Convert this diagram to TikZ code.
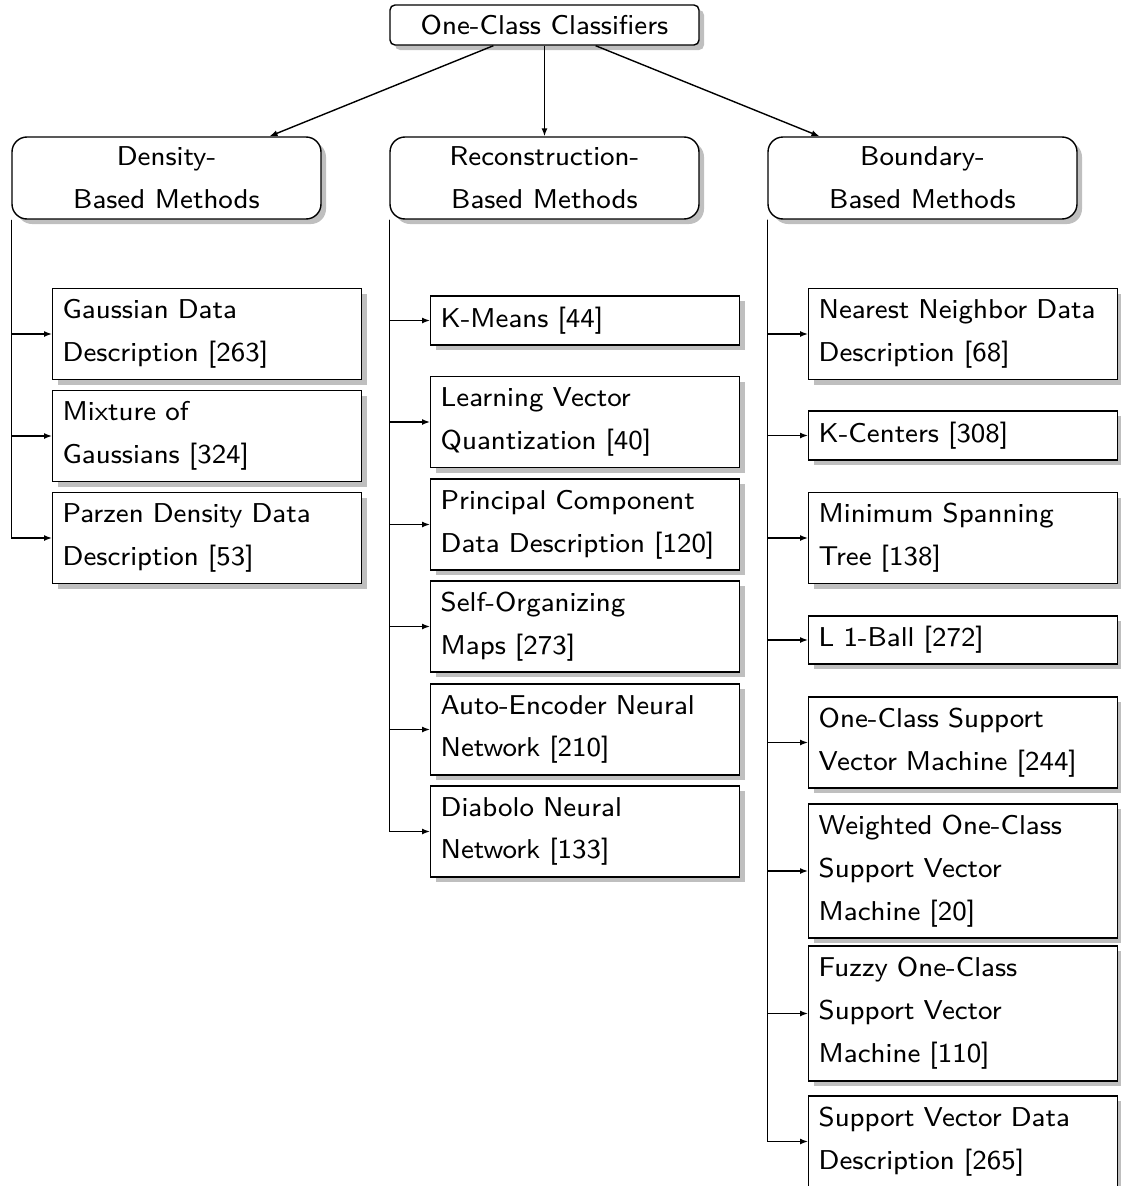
\documentclass[tikz,border=0pt]{standalone}
\usepackage{tikz}
\usetikzlibrary{positioning,arrows.meta,shadows}

\begin{document}
\begin{tikzpicture}[
    font=\sffamily\fontsize{7.75}{12.2}\selectfont,
    shadowed/.style={drop shadow={shadow xshift=0.05cm, shadow yshift=-0.05cm, fill=black!25, opacity=1}},
    rootbox/.style={
        draw,
        fill=white,
        rounded corners=0.05cm,
        minimum width=3.09cm,
        minimum height=0.40cm,
        inner sep=0.03cm,
        shadowed
    },
    groupbox/.style={
        draw,
        fill=white,
        rounded corners=0.15cm,
        minimum width=3.09cm,
        minimum height=0.82cm,
        inner sep=0.03cm,
        align=center,
        shadowed
    },
    leafbox/.style={
        draw,
        fill=white,
        anchor=west,
        text width=2.89cm,
        inner xsep=0.1cm,
        inner ysep=0.03cm,
        minimum height=#1,
        align=left,
        shadowed
    },
    leafbox/.default=0.91cm,
    arrow/.style={-{Latex[length=0.8mm,width=0.6mm]}}
]
    \useasboundingbox (0,0) rectangle (11.21,-11.86);

    % root and the three families
    \node[rootbox] (occ) at (5.445,-0.25) {One-Class Classifiers};
    \node[groupbox] (dbm) at (1.665,-1.78) {Density-\\Based Methods};
    \node[groupbox] (rbm) at (5.445,-1.78) {Reconstruction-\\Based Methods};
    \node[groupbox] (bbm) at (9.225,-1.78) {Boundary-\\Based Methods};

    \draw[arrow] (occ) -- (dbm);
    \draw[arrow] (occ) -- (rbm);
    \draw[arrow] (occ) -- (bbm);

    % density-based
    \node[leafbox] (gdd) at (0.52,-3.34) {Gaussian Data\\Description [263]};
    \node[leafbox] (mog) at (0.52,-4.36) {Mixture of\\Gaussians [324]};
    \node[leafbox] (pdd) at (0.52,-5.38) {Parzen Density Data\\Description [53]};

    % reconstruction-based
    \node[leafbox=0.49cm] (km) at (4.30,-3.205) {K-Means [44]};
    \node[leafbox] (lvq) at (4.30,-4.22) {Learning Vector\\Quantization [40]};
    \node[leafbox] (pcdd) at (4.30,-5.245) {Principal Component\\Data Description [120]};
    \node[leafbox] (som) at (4.30,-6.265) {Self-Organizing\\Maps [273]};
    \node[leafbox] (aenn) at (4.30,-7.295) {Auto-Encoder Neural\\Network [210]};
    \node[leafbox] (dnn) at (4.30,-8.315) {Diabolo Neural\\Network [133]};

    % boundary-based
    \node[leafbox] (nndd) at (8.08,-3.34) {Nearest Neighbor Data\\Description [68]};
    \node[leafbox=0.49cm] (kc) at (8.08,-4.355) {K-Centers [308]};
    \node[leafbox] (mst) at (8.08,-5.38) {Minimum Spanning\\Tree [138]};
    \node[leafbox=0.48cm] (lball) at (8.08,-6.40) {L 1-Ball [272]};
    \node[leafbox] (ocsvm) at (8.08,-7.425) {One-Class Support\\Vector Machine [244]};
    \node[leafbox=1.34cm] (wocsvm) at (8.08,-8.71) {Weighted One-Class\\Support Vector\\Machine [20]};
    \node[leafbox=1.35cm] (focsvm) at (8.08,-10.135) {Fuzzy One-Class\\Support Vector\\Machine [110]};
    \node[leafbox] (svdd) at (8.08,-11.415) {Support Vector Data\\Description [265]};

    \foreach \leaf in {gdd,mog,pdd}
        \draw[arrow] (dbm.south west) |- (\leaf.west);
    \foreach \leaf in {km,lvq,pcdd,som,aenn,dnn}
        \draw[arrow] (rbm.south west) |- (\leaf.west);
    \foreach \leaf in {nndd,kc,mst,lball,ocsvm,wocsvm,focsvm,svdd}
        \draw[arrow] (bbm.south west) |- (\leaf.west);
\end{tikzpicture}
\end{document}
